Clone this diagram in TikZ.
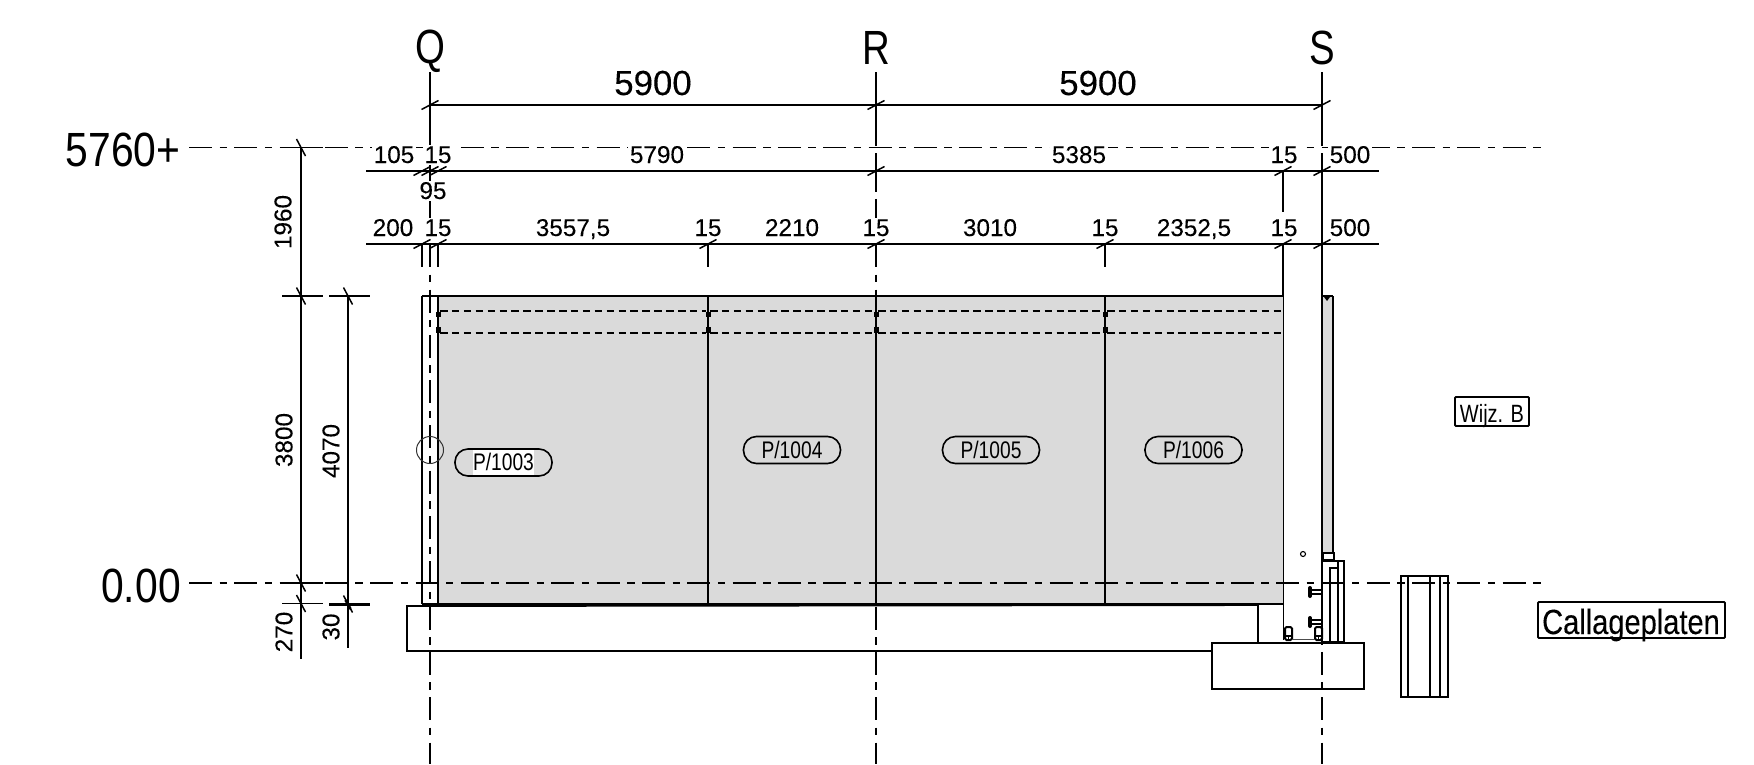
\documentclass[tikz,border=0pt]{standalone}
\usepackage{fontspec}
\setmainfont[FakeBold=0.12]{Liberation Sans}
\newfontfamily\narrowfont[FakeStretch=0.8]{Liberation Sans}
\newfontfamily\levelfont[FakeStretch=0.85]{Liberation Sans}
\newfontfamily\calfont[FakeStretch=0.83,FakeBold=0.12]{Liberation Sans}
\newcommand{\dimsize}{\fontsize{24.3}{24.3}\selectfont}
\newcommand{\bigdim}{\fontsize{34.8}{34.8}\selectfont}
\newcommand{\axissize}{\narrowfont\fontsize{48}{48}\selectfont}
\newcommand{\levelsize}{\levelfont\fontsize{48}{48}\selectfont}
\newcommand{\pillsize}{\narrowfont\fontsize{24}{24}\selectfont}
\newcommand{\tagsize}{\narrowfont\fontsize{25}{25}\selectfont}
\newcommand{\calsize}{\calfont\fontsize{35}{35}\selectfont}
\definecolor{panelgrey}{HTML}{DADADA}
\tikzset{
  centerline/.style={line width=1.7pt,dash pattern=on 23pt off 7.5pt on 7.4pt off 7.4pt},
  dimline/.style={line width=1.5pt},
  extline/.style={line width=1.5pt},
  tickmark/.style={line width=1.5pt},
  heavy/.style={line width=2.7pt},
  edgeline/.style={line width=2.2pt},
  outline/.style={line width=1.9pt},
  hidden/.style={line width=1.5pt,dash pattern=on 7.5pt off 4.4pt},
  dimtext/.style={font=\dimsize,fill=white,inner sep=1.5pt},
  rowtext/.style={font=\dimsize,fill=white,inner sep=1.5pt,anchor=base},
  bigtext/.style={font=\bigdim,inner sep=0pt,anchor=base},
  axistext/.style={font=\axissize,inner sep=0pt,anchor=base},
  leveltext/.style={font=\levelsize,inner sep=0pt,anchor=base},
  pill/.style={draw,line width=1.6pt,rounded corners=13pt,minimum width=97pt,minimum height=27pt,inner sep=0pt},
  tagbox/.style={draw,line width=1.9pt,rounded corners=1pt,fill=white,inner sep=0pt},
  tagtext/.style={inner sep=0pt,anchor=base}
}
\begin{document}
\begin{tikzpicture}[x=1pt,y=-1pt]
\useasboundingbox (0,0) rectangle (1754,764);
% panels and column
\fill[panelgrey] (438,296) rectangle (1283,603);
\fill[panelgrey] (1322,296) rectangle (1333,553);
% centre lines
\draw[centerline] (189,147.5) -- (1542,147.5);
\draw[centerline] (189,583) -- (1542,583);
\foreach \x in {430,876,1322} \draw[centerline,dash phase=9pt] (\x,72) -- (\x,764);
\foreach \x in {430,876,1322} {
  \draw[extline] (\x,72) -- (\x,145);
  \draw[extline] (\x,153) -- (\x,192);
}
\draw[extline] (1322,192) -- (1322,643);
% panel outlines
\draw[edgeline] (422,296) -- (1283,296);
\draw[edgeline] (422,604) -- (1283,604);
\draw[outline] (422,296) -- (422,604);
\draw[heavy] (438,296) -- (438,604);
\foreach \x in {708,876,1105} \draw[heavy] (\x,296) -- (\x,604);
\draw[outline] (1283.5,296) -- (1283.5,640);
\foreach \x in {438,708,876,1105} {
  \fill (\x-2.5,312) rectangle (\x+2.5,317);
  \fill (\x-2.5,327) rectangle (\x+2.5,333);
}
\draw[hidden] (440,311) -- (706,311);
\draw[hidden] (440,333) -- (706,333);
\draw[hidden] (710,311) -- (874,311);
\draw[hidden] (710,333) -- (874,333);
\draw[hidden] (878,311) -- (1103,311);
\draw[hidden] (878,333) -- (1103,333);
\draw[hidden] (1107,311) -- (1282,311);
\draw[hidden] (1107,333) -- (1282,333);
% slab and footing
\draw[outline] (1258,605) -- (407,606) -- (407,651) -- (1212,651);
\draw[outline] (1258,605) -- (1258,643);
\draw[outline] (1212,643) rectangle (1364,689);
% right-hand element
\draw[outline] (1333,296) -- (1333,553);
\draw[outline] (1322,296) -- (1333,296);
\fill (1324,297) -- (1330,297) -- (1327,301) -- cycle;
\draw[line width=2.4pt] (1323,553) rectangle (1334,560);
\draw[outline] (1322,561) -- (1344,561) -- (1344,643) -- (1322,643) -- cycle;
\draw[outline] (1338,561) -- (1338,568) -- (1330,568) -- (1330,643);
\draw[outline] (1338,568) -- (1338,643);
\draw[heavy] (1322,561) -- (1322,643);
\draw[line width=2.6pt] (1322,642) -- (1344,642);
\fill[white,draw=black,line width=1.1pt] (1303,554) circle (2.5);
% bolts
\foreach \y in {592,622} {
  \draw[line width=1.1pt] (1312,\y-2) -- (1322,\y-2) (1312,\y+2) -- (1322,\y+2);
  \draw[line width=4pt,line cap=round] (1310,\y-4) -- (1310,\y+4);
}
\foreach \x in {1285,1315} {
  \draw[line width=2pt,rounded corners=1.5pt] (\x,627) rectangle (\x+7,640);
  \draw[line width=1.4pt] (\x,636) -- (\x+7,636) (\x+3.5,636) -- (\x+3.5,640);
}
\draw[line width=1.4pt,black!70] (1292,639.5) -- (1315,639.5);
% callage block
\draw[outline] (1401,576) rectangle (1448,697);
\foreach \x in {1408,1430,1440} \draw[outline] (\x,576) -- (\x,697);
% ref circle
\draw[line width=1pt,black!80] (430,450) circle (13.5);
% horizontal dimension lines
\draw[dimline] (430,105) -- (1322,105);
\draw[dimline] (366,171) -- (1379,171);
\draw[dimline] (366,244) -- (1379,244);
\foreach \x in {430,876,1322} \draw[tickmark] (\x-8.5,109.5) -- (\x+8.5,100.5);
\foreach \x in {422,430,438,876,1283,1322} \draw[tickmark] (\x-8.5,175.5) -- (\x+8.5,166.5);
\foreach \x in {422,438,708,876,1105,1283,1322} \draw[tickmark] (\x-8.5,248.5) -- (\x+8.5,239.5);
% extension stubs
\draw[extline] (422,244) -- (422,267);
\draw[line width=1.2pt] (430,244) -- (430,258);
\foreach \x in {438,708,876,1105,1283} \draw[heavy] (\x,244) -- (\x,267);
\draw[heavy] (1283,171) -- (1283,193);
\draw[extline] (1283,193) -- (1283,212);
\draw[extline] (1283,267) -- (1283,296);
% vertical dimension lines
\draw[dimline] (301,147) -- (301,659);
\draw[dimline] (348,296) -- (348,648);
\draw[line width=1.7pt] (282,147.5) -- (323,147.5);
\draw[line width=2.1pt] (282,296) -- (323,296);
\draw[line width=1.8pt] (329,296) -- (370,296);
\draw[line width=2.1pt] (280,583) -- (323,583);
\draw[extline] (325,583) -- (348,583);
\draw[extline] (282,603.5) -- (323,603.5);
\draw[line width=3pt] (329,604) -- (370,604);
\foreach \p/\q in {301/147.5,301/296,348/296,301/583,301/603.5,348/604}
  \draw[tickmark] (\p-4.5,\q-8.5) -- (\p+4.5,\q+8.5);
\draw[line width=2.6pt] (345.5,600) -- (350.5,609);
% axis labels
\node[axistext] (axisQ) at (430,63) {Q};
\node[axistext] (axisR) at (876,64) {R};
\node[axistext] (axisS) at (1322,64) {S};
\node[leveltext] (levelTop) at (123,166) {5760+};
\node[leveltext] (levelZero) at (141,602) {0.00};
\node[bigtext] (dimA) at (653,95) {5900};
\node[bigtext] (dimB) at (1098,95) {5900};
% row 2
\node[rowtext] (r2a) at (394,163) {105};
\node[rowtext] (r2b) at (438,163) {15};
\node[rowtext] (r2c) at (657,163) {5790};
\node[rowtext] (r2d) at (1079,163) {5385};
\node[rowtext] (r2e) at (1284,163) {15};
\node[rowtext] (r2f) at (1350,163) {500};
\node[rowtext] (r2g) at (433,199) {95};
% row 3
\node[rowtext] (r3a) at (393,236) {200};
\node[rowtext] (r3b) at (438,236) {15};
\node[rowtext] (r3c) at (573,236) {3557,5};
\node[rowtext] (r3d) at (708,236) {15};
\node[rowtext] (r3e) at (792,236) {2210};
\node[rowtext] (r3f) at (876,236) {15};
\node[rowtext] (r3g) at (990,236) {3010};
\node[rowtext] (r3h) at (1105,236) {15};
\node[rowtext] (r3i) at (1194,236) {2352,5};
\node[rowtext] (r3j) at (1284,236) {15};
\node[rowtext] (r3k) at (1350,236) {500};
% vertical labels
\node[dimtext,rotate=90] (v1) at (283,222) {1960};
\node[dimtext,rotate=90] (v2) at (284,440) {3800};
\node[dimtext,rotate=90] (v3) at (331,451) {4070};
\node[dimtext,rotate=90] (v4) at (284,632) {270};
\node[dimtext,rotate=90] (v5) at (331,627) {30};
% panel marks
\node[pill] (p1003) at (503.5,462.5) {\colorbox{white}{\hspace{-3pt}\pillsize\rule[-1pt]{0pt}{18pt}P/1003\hspace{-3pt}}};
\node[pill] (p1004) at (792,450) {\colorbox{panelgrey}{\hspace{-3pt}\pillsize\rule[-1pt]{0pt}{18pt}P/1004\hspace{-3pt}}};
\node[pill] (p1005) at (991,450) {\colorbox{panelgrey}{\hspace{-3pt}\pillsize\rule[-1pt]{0pt}{18pt}P/1005\hspace{-3pt}}};
\node[pill] (p1006) at (1193.5,450) {\colorbox{panelgrey}{\hspace{-3pt}\pillsize\rule[-1pt]{0pt}{18pt}P/1006\hspace{-3pt}}};
% tags
\node[tagbox,minimum width=74pt,minimum height=29pt] (wijz) at (1492,411.5) {};
\node[tagtext,font=\tagsize] (wijzText) at (1492,422) {Wijz. B};
\node[tagbox,minimum width=187pt,minimum height=36pt] (callage) at (1631.5,620) {};
\node[tagtext,font=\calsize] (callageText) at (1631,634) {Callageplaten};
\end{tikzpicture}
\end{document}
